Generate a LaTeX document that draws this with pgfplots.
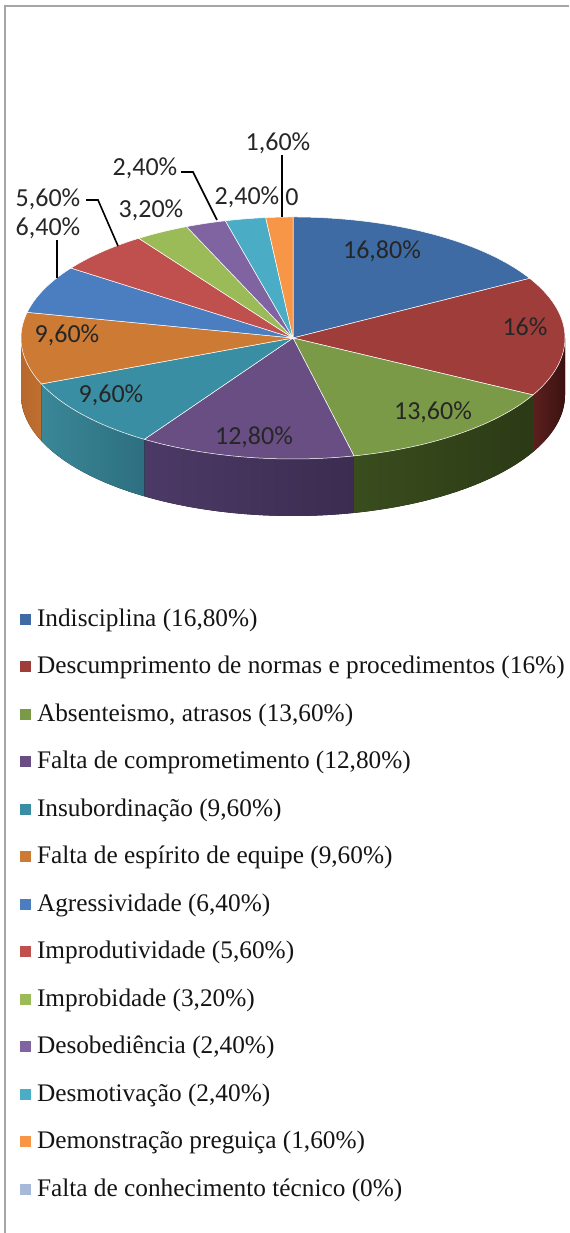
\documentclass[border=0pt]{standalone}
\usepackage{pgfplots}
\pgfplotsset{compat=1.18}
\usepackage{pgfplotstable}
\usepgfplotslibrary{fillbetween}
\usepackage{fontspec}
\setmainfont{Liberation Serif}
\newfontfamily\lab{Carlito}

\pgfplotstableread{
pct
16.8
16
13.6
12.8
9.6
9.6
6.4
5.6
3.2
2.4
2.4
1.6
0
}\piedata

\definecolor{c0}{HTML}{3E6BA3}
\definecolor{c1}{HTML}{9E3D3A}
\definecolor{c2}{HTML}{7B9A48}
\definecolor{c3}{HTML}{684E82}
\definecolor{c4}{HTML}{398EA3}
\definecolor{c5}{HTML}{CD7A34}
\definecolor{c6}{HTML}{4A7EC0}
\definecolor{c7}{HTML}{C0504D}
\definecolor{c8}{HTML}{9BBB59}
\definecolor{c9}{HTML}{8064A2}
\definecolor{c10}{HTML}{4BACC6}
\definecolor{c11}{HTML}{F79646}
\definecolor{c12}{HTML}{A7B9DA}
\definecolor{s1L}{HTML}{5C201E}\definecolor{s1R}{HTML}{3A1211}
\definecolor{s2L}{HTML}{3A4D1E}\definecolor{s2R}{HTML}{2B3A15}
\definecolor{s3L}{HTML}{4C3A66}\definecolor{s3R}{HTML}{3B2C50}
\definecolor{s4L}{HTML}{3A8797}\definecolor{s4R}{HTML}{2D6F80}
\definecolor{s5L}{HTML}{B8682C}\definecolor{s5R}{HTML}{C06F30}

\def\cx{293}\def\cy{895}\def\rx{272}\def\ry{121}\def\th{57}

\newcommand\topslice[1]{%
  \edef\doit{\noexpand\addplot[fill=c#1, draw=white, line width=0.25pt,
     domain=\csname eA#1\endcsname:\csname sA#1\endcsname, samples=60]
     ({\cx+\rx*cos(x)},{\cy+\ry*sin(x)}) -- (axis cs:\cx,\cy) -- cycle;}%
  \doit}
\newcommand\sideface[1]{%
  \pgfmathsetmacro\lo{max(\csname eA#1\endcsname,-180)}%
  \pgfmathsetmacro\hi{min(\csname sA#1\endcsname,0)}%
  \edef\doit{%
  \noexpand\addplot[draw=none, name path=sa#1, domain=\lo:\hi, samples=50, forget plot]
     ({\cx+\rx*cos(x)},{\cy+\ry*sin(x)});
  \noexpand\addplot[draw=none, name path=sb#1, domain=\lo:\hi, samples=50, forget plot]
     ({\cx+\rx*cos(x)},{\cy+\ry*sin(x)-\th});
  \noexpand\addplot[left color=s#1L, right color=s#1R, draw=none, forget plot]
     fill between[of=sa#1 and sb#1];}%
  \doit}

\begin{document}
\def\cum{0}%
\foreach \i in {0,...,12}{%
  \pgfplotstablegetelem{\i}{pct}\of\piedata
  \pgfmathsetmacro\s{90-3.6*\cum}%
  \pgfmathsetmacro\c{\cum+\pgfplotsretval}%
  \pgfmathsetmacro\e{90-3.6*\c}%
  \expandafter\xdef\csname sA\i\endcsname{\s}%
  \expandafter\xdef\csname eA\i\endcsname{\e}%
  \xdef\cum{\c}%
}%
\begin{tikzpicture}
\begin{axis}[
  width=284.5pt, height=616.5pt, scale only axis,
  xmin=0, xmax=569, ymin=0, ymax=1233,
  axis lines=none, clip=false,
  legend cell align=left,
  legend style={at={(0.03515,0.5065)}, anchor=north west, draw=none, fill=none,
    inner sep=0pt, outer sep=0pt, row sep=11.75pt, column sep=3pt,
    font=\fontsize{12.65}{14}\selectfont,
    nodes={inner sep=0pt, text height=9pt, text depth=3pt, text=black!92}},
  legend image code/.code={\path[#1, draw=none] (0pt,-2.25pt) rectangle (5.5pt,3.25pt);},
]
% frame
\draw[gray!70, line width=1.2pt] (axis cs:5,0) -- (axis cs:5,1227) -- (axis cs:569,1227);
% side walls
\sideface{1}
\sideface{2}
\sideface{3}
\sideface{4}
\sideface{5}
% top faces
\topslice{0}\addlegendentry{Indisciplina (16,80\%)}
\topslice{1}\addlegendentry{Descumprimento de normas e procedimentos (16\%)}
\topslice{2}\addlegendentry{Absenteismo, atrasos (13,60\%)}
\topslice{3}\addlegendentry{Falta de comprometimento (12,80\%)}
\topslice{4}\addlegendentry{Insubordinação (9,60\%)}
\topslice{5}\addlegendentry{Falta de espírito de equipe (9,60\%)}
\topslice{6}\addlegendentry{Agressividade (6,40\%)}
\topslice{7}\addlegendentry{Improdutividade (5,60\%)}
\topslice{8}\addlegendentry{Improbidade (3,20\%)}
\topslice{9}\addlegendentry{Desobediência (2,40\%)}
\topslice{10}\addlegendentry{Desmotivação (2,40\%)}
\topslice{11}\addlegendentry{Demonstração preguiça (1,60\%)}
\addlegendimage{fill=c12, draw=none}
\addlegendentry{Falta de conhecimento técnico (0\%)}
% labels
\begin{scope}[every node/.style={font=\lab\fontsize{13}{15}\selectfont, text=black!85, inner sep=0pt}]
\node at (axis cs:382,982) {16,80\%};
\node at (axis cs:525,906) {16\%};
\node at (axis cs:433,821) {13,60\%};
\node at (axis cs:254,796) {12,80\%};
\node at (axis cs:111,838) {9,60\%};
\node at (axis cs:67,898) {9,60\%};
\node at (axis cs:48,1005) {6,40\%};
\node at (axis cs:48,1034) {5,60\%};
\node at (axis cs:151,1023) {3,20\%};
\node at (axis cs:145,1065) {2,40\%};
\node at (axis cs:247,1036) {2,40\%};
\node at (axis cs:292,1036) {0};
\node at (axis cs:278,1090) {1,60\%};
\end{scope}
\begin{scope}[black, line width=0.8pt]
\draw (axis cs:57,993) -- (axis cs:57,955);
\draw (axis cs:86,1033) -- (axis cs:98,1033) -- (axis cs:118,987);
\draw (axis cs:181,1061) -- (axis cs:193,1061) -- (axis cs:217,1013);
\draw (axis cs:282,1078) -- (axis cs:282,1016);
\end{scope}
\coordinate (BL) at (axis cs:0,0);
\coordinate (TR) at (axis cs:569,1233);
\end{axis}
\pgfresetboundingbox
\path (BL) rectangle (TR);
\end{tikzpicture}
\end{document}
